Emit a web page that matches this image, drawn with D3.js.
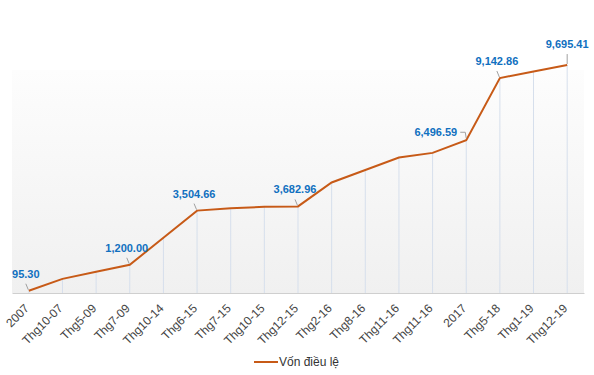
<!DOCTYPE html>
<meta charset="utf-8">
<script src="https://d3js.org/d3.v7.min.js"></script>
<style>
  body { margin: 0; background: #fff; }
  text { font-family: "Liberation Sans", Arial, sans-serif; }
</style>
<div id="chart"></div>
<script>
// categories along the x axis (one label appears twice, so index is used as the key)
var categories = ["2007", "Thg10-07", "Thg5-09", "Thg7-09", "Thg10-14", "Thg6-15", "Thg7-15",
  "Thg10-15", "Thg12-15", "Thg2-16", "Thg8-16", "Thg11-16", "Thg11-16", "2017", "Thg5-18",
  "Thg1-19", "Thg12-19"];

// charter capital (Vốn điều lệ)
var capital = [95.30, 600, 900, 1200.00, 2350, 3504.66, 3610, 3665, 3682.96, 4700, 5230,
  5760, 5960, 6496.59, 9142.86, 9420, 9695.41];

// which points carry a value label
var labelled = [0, 3, 5, 8, 13, 14, 16];

var seriesName = "Vốn điều lệ";

var W = 594, H = 375;
var margin = {top: 70, right: 10, bottom: 82, left: 12};
var width = W - margin.left - margin.right,
    height = H - margin.top - margin.bottom;

var svg = d3.select("#chart").append("svg")
    .attr("width", W)
    .attr("height", H);

var defs = svg.append("defs");
var grad = defs.append("linearGradient")
    .attr("id", "bg")
    .attr("x1", 0).attr("y1", 0).attr("x2", 0).attr("y2", 1);
grad.append("stop").attr("offset", "0%").attr("stop-color", "#fdfdfd");
grad.append("stop").attr("offset", "100%").attr("stop-color", "#f0f0f0");

var g = svg.append("g")
    .attr("transform", "translate(" + margin.left + "," + margin.top + ")");

var x = d3.scaleBand()
    .domain(d3.range(categories.length))
    .range([0, width]);

var y = d3.scaleLinear()
    .domain([0, 10000])
    .range([height, height - 10000 * 0.02351]);

// plot background
g.append("rect")
    .attr("width", width)
    .attr("height", height)
    .attr("fill", "url(#bg)");

var cx = function(i) { return x(i) + x.bandwidth() / 2; };

// drop lines from each point
g.selectAll(".drop")
    .data(capital)
    .enter().append("line")
      .attr("x1", function(d, i) { return cx(i); })
      .attr("x2", function(d, i) { return cx(i); })
      .attr("y1", function(d) { return y(d); })
      .attr("y2", height)
      .attr("stroke", "#d6dfec")
      .attr("stroke-width", 1);

// x axis
var xAxis = g.append("g")
    .attr("transform", "translate(0," + height + ")")
    .call(d3.axisBottom(x).tickSize(0).tickFormat(function(i) { return categories[i]; }));
xAxis.select(".domain").attr("stroke", "#cfcfcf");
xAxis.selectAll("text")
    .attr("fill", "#444")
    .style("font-size", "12px")
    .attr("text-anchor", "end")
    .attr("y", 0)
    .attr("dy", 0)
    .attr("transform", "translate(1,16) rotate(-45)");

// the line
var line = d3.line()
    .x(function(d, i) { return cx(i); })
    .y(function(d) { return y(d); });

g.append("path")
    .datum(capital)
    .attr("fill", "none")
    .attr("stroke", "#c75a17")
    .attr("stroke-width", 2)
    .attr("d", line);

// value labels with short connectors
var fmt = d3.format(",.2f");
labelled.forEach(function(i) {
  var px = cx(i), py = y(capital[i]);
  var conn, tx, ty, anchor = "middle";
  if (i === 13) {
    conn = [[px, py - 2], [px - 1, py - 8], [px - 6, py - 8]];
    tx = px - 9; ty = py - 4; anchor = "end";
  } else if (i === 16) {
    conn = [[px, py - 1], [px, py - 11]];
    tx = px; ty = py - 17;
  } else {
    conn = [[px - 0.5, py - 1], [px - 3, py - 7]];
    tx = px - 3; ty = py - 13;
  }
  g.append("path")
      .attr("d", d3.line()(conn))
      .attr("fill", "none")
      .attr("stroke", "#a0a0a0")
      .attr("stroke-width", 1);
  g.append("text")
      .attr("x", tx)
      .attr("y", ty)
      .attr("text-anchor", anchor)
      .attr("fill", "#1070c0")
      .style("font-size", "11px")
      .style("font-weight", "bold")
      .text(fmt(capital[i]));
});

// legend
var legend = svg.append("g")
    .attr("transform", "translate(254,362)");
legend.append("line")
    .attr("x1", 0).attr("x2", 24)
    .attr("stroke", "#c75a17")
    .attr("stroke-width", 2);
legend.append("text")
    .attr("x", 25)
    .attr("dy", "0.35em")
    .attr("fill", "#333")
    .style("font-size", "12px")
    .text(seriesName);
</script>
